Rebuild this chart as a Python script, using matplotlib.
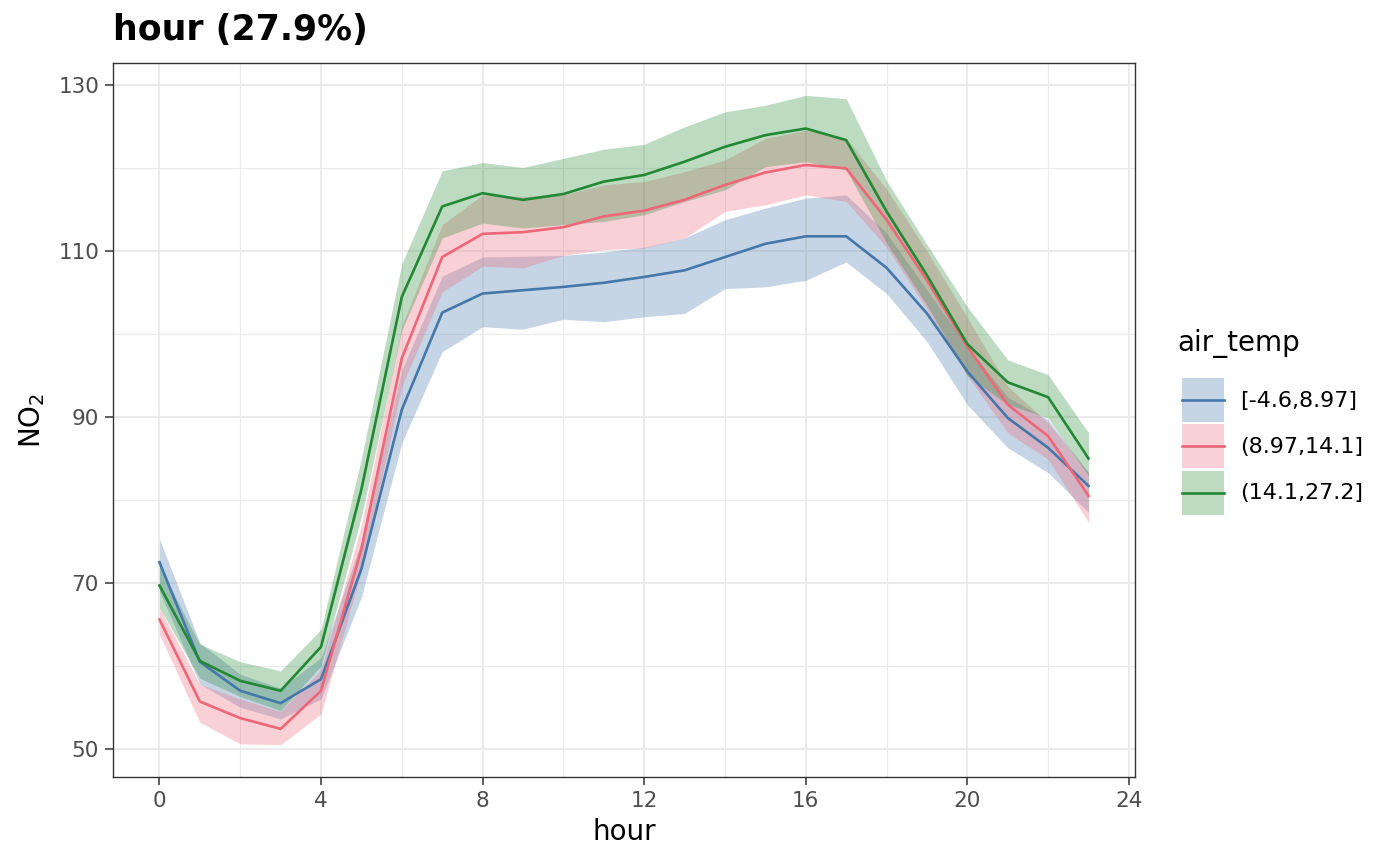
import matplotlib.pyplot as plt
from matplotlib.patches import Patch, Rectangle
from matplotlib.lines import Line2D
from matplotlib.legend_handler import HandlerBase

hours = list(range(24))
groups = ["[-4.6,8.97]", "(8.97,14.1]", "(14.1,27.2]"]
colors = ["#4477AA", "#EE6677", "#228833"]

cold_mean = [72.5, 60.5, 57.0, 55.5, 58.4, 71.7, 90.9, 102.6, 104.9, 105.3, 105.7, 106.2,
             106.9, 107.7, 109.3, 110.9, 111.8, 111.8, 108.0, 102.5, 95.5, 89.9, 86.3, 81.7]
cold_lower = [69.0, 57.8, 55.0, 53.6, 56.0, 68.3, 86.9, 97.9, 100.9, 100.6, 101.8, 101.5,
              102.1, 102.5, 105.5, 105.7, 106.5, 108.7, 104.9, 99.1, 91.5, 86.3, 83.3, 78.5]
cold_upper = [75.3, 62.8, 59.0, 57.3, 61.0, 75.0, 95.7, 107.0, 109.3, 109.4, 109.5, 109.9,
              110.5, 111.6, 113.8, 115.2, 116.4, 116.8, 112.2, 105.3, 98.5, 92.4, 89.7, 83.3]

mild_mean = [65.6, 55.7, 53.7, 52.4, 57.0, 74.1, 97.1, 109.3, 112.1, 112.3, 112.9, 114.2,
             114.9, 116.2, 118.0, 119.5, 120.4, 120.0, 113.8, 106.5, 98.5, 91.5, 87.7, 80.5]
mild_lower = [63.8, 53.2, 50.6, 50.5, 54.2, 71.5, 93.7, 105.1, 108.2, 108.0, 109.5, 110.2,
              110.4, 111.6, 114.8, 115.6, 116.8, 116.0, 110.5, 103.0, 95.0, 88.1, 84.9, 77.3]
mild_upper = [67.0, 57.8, 56.0, 54.5, 59.5, 77.0, 101.0, 113.2, 116.8, 116.6, 116.8, 118.0,
              118.4, 119.6, 121.0, 123.6, 124.6, 123.6, 117.5, 110.0, 102.0, 93.7, 89.3, 83.3]

warm_mean = [69.7, 60.6, 58.2, 57.0, 62.3, 81.3, 104.5, 115.4, 117.0, 116.2, 116.9, 118.4,
             119.2, 120.8, 122.6, 124.0, 124.8, 123.4, 114.8, 107.1, 98.8, 94.2, 92.4, 85.0]
warm_lower = [67.0, 58.5, 56.3, 54.6, 60.0, 78.0, 100.5, 111.6, 113.4, 112.8, 113.2, 113.6,
              114.4, 116.0, 117.4, 120.2, 120.8, 119.8, 111.0, 103.5, 95.0, 91.5, 89.9, 82.9]
warm_upper = [72.0, 62.6, 60.5, 59.4, 64.4, 85.0, 108.5, 119.7, 120.7, 120.1, 121.2, 122.3,
              122.9, 125.0, 126.8, 127.6, 128.8, 128.4, 118.5, 110.8, 103.3, 96.9, 95.1, 88.1]

means = [cold_mean, mild_mean, warm_mean]
lowers = [cold_lower, mild_lower, warm_lower]
uppers = [cold_upper, mild_upper, warm_upper]


class RibbonKey(HandlerBase):
    # filled box with a line through its middle, like ggplot's ribbon+line key
    def create_artists(self, legend, orig_handle, xdescent, ydescent, width, height, fontsize, trans):
        c = orig_handle.get_facecolor()
        rect = Rectangle((-xdescent, -ydescent), width, height, facecolor=c,
                         edgecolor="none", transform=trans)
        y = -ydescent + height / 2
        line = Line2D([-xdescent, -xdescent + width], [y, y], color=orig_handle.line_color,
                      linewidth=1.9, transform=trans)
        return [rect, line]


fig = plt.figure(figsize=(14, 8.65), dpi=100)
ax = fig.add_axes([113 / 1400, 1 - 777 / 865, (1135 - 113) / 1400, (777 - 63) / 865])

for lo, up, c in zip(lowers, uppers, colors):
    ax.fill_between(hours, lo, up, color=c, alpha=0.3, linewidth=0, zorder=2)
for m, c in zip(means, colors):
    ax.plot(hours, m, color=c, linewidth=1.9, zorder=3)

ax.set_xlim(-1.15, 24.15)
ax.set_ylim(46.6, 132.7)
ax.set_xticks(range(0, 25, 4))
ax.set_xticks(range(2, 24, 4), minor=True)
ax.set_yticks([50, 70, 90, 110, 130])
ax.set_yticks([60, 80, 100, 120], minor=True)
ax.grid(which="major", color="#EBEBEB", linewidth=1.5, zorder=0)
ax.grid(which="minor", color="#EBEBEB", linewidth=0.8, zorder=0)
ax.set_axisbelow(True)
ax.tick_params(which="major", length=6, width=1.1, color="#333333",
               labelsize=15.5, labelcolor="#4D4D4D", pad=4)
ax.tick_params(which="minor", length=0)
for s in ax.spines.values():
    s.set_color("#333333")
    s.set_linewidth(1.0)

ax.set_xlabel("hour", fontsize=20, labelpad=5)
ax.set_ylabel(r"NO$_2$", fontsize=20, labelpad=8)
fig.text(113 / 1400, 1 - 30 / 865, "hour (27.9%)", fontsize=25, fontweight="bold",
         ha="left", va="center")

# legend: title drawn separately for spacing control
fig.text(1177 / 1400, 1 - 343 / 865, "air_temp", fontsize=20, ha="left", va="center")
handles = []
for c in colors:
    p = Patch(facecolor=c, alpha=0.3, edgecolor="none")
    p.line_color = c
    handles.append(p)
leg = fig.legend(handles, groups, loc="upper left", bbox_to_anchor=(1182 / 1400, 1 - 378 / 865),
                 frameon=False, fontsize=16, handlelength=1.9, handleheight=2.65,
                 labelspacing=0.12, handletextpad=0.72, borderpad=0, borderaxespad=0,
                 handler_map={Patch: RibbonKey()})

fig.savefig("out.png", dpi=100)
